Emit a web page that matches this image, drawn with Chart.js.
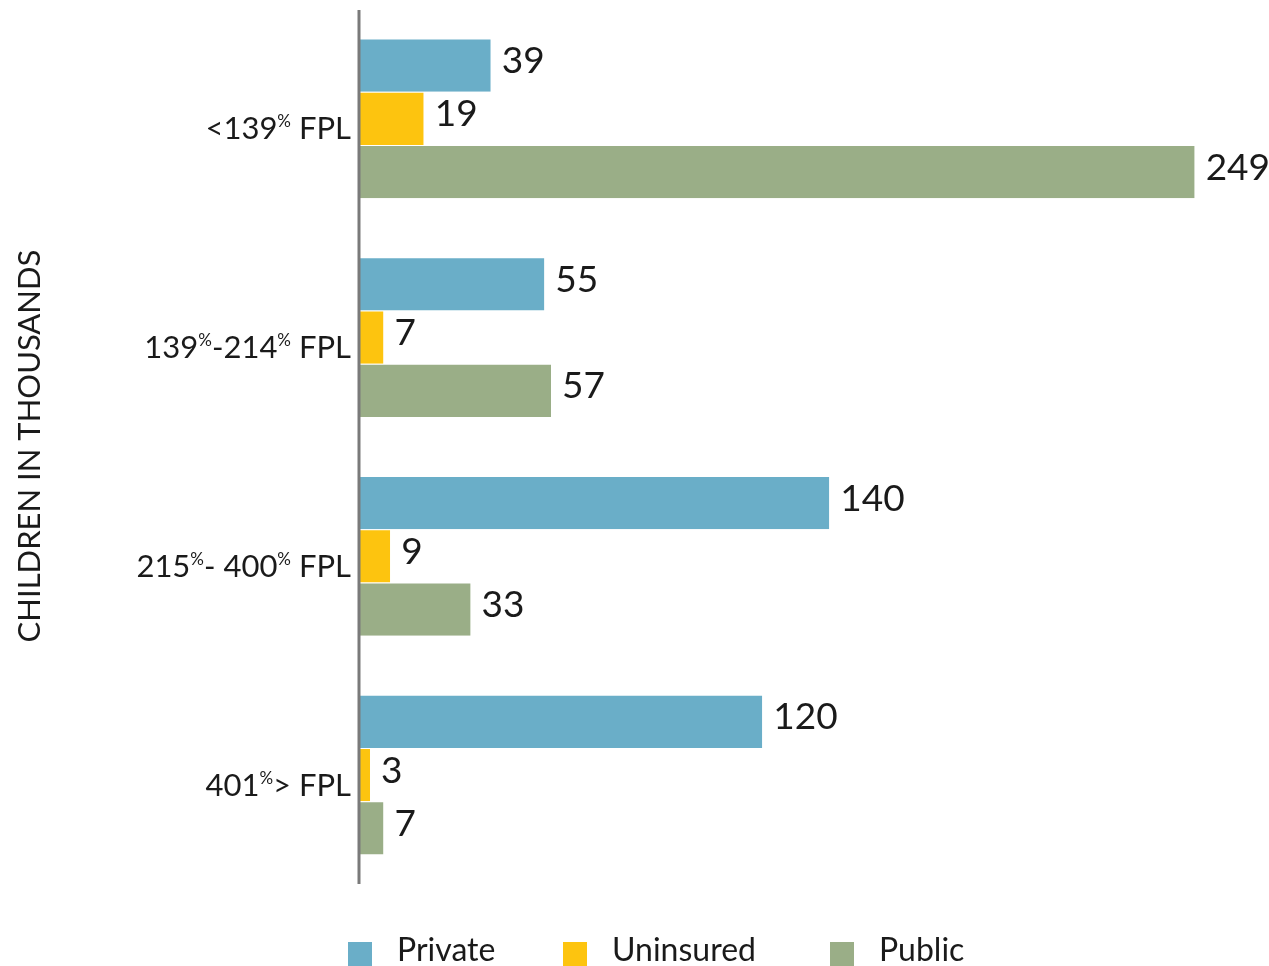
<!DOCTYPE html>
<html>
<head>
<meta charset="utf-8">
<script src="https://cdn.jsdelivr.net/npm/chart.js@4"></script>
<style>
  html, body { margin: 0; padding: 0; background: #fff; }
  #wrap { width: 1269px; height: 966px; position: relative; }
</style>
</head>
<body>
<div id="wrap"><canvas id="chart"></canvas></div>
<script>
// data
const categories = ["<139% FPL", "139%-214% FPL", "215%- 400% FPL", "401%> FPL"];
const privateVals = [39, 55, 140, 120];
const uninsuredVals = [19, 7, 9, 3];
const publicVals = [249, 57, 33, 7];
const seriesNames = ["Private", "Uninsured", "Public"];
const colors = ["#6aaec8", "#fdc40f", "#9aae87"];
const axisTitle = "CHILDREN IN THOUSANDS";

const FONT = "Lato, 'Open Sans', sans-serif";
const W = "400 ";

// draws category labels (with superscript %), bar values, axis line, legend, title
const decorations = {
  id: "decorations",
  afterDatasetsDraw(chart) {
    const ctx = chart.ctx;
    const area = chart.chartArea;
    const yScale = chart.scales.y;

    // axis line
    ctx.save();
    ctx.strokeStyle = "#7a7a7a";
    ctx.lineWidth = 3;
    ctx.beginPath();
    ctx.moveTo(area.left - 1, 10);
    ctx.lineTo(area.left - 1, 884);
    ctx.stroke();

    // value labels
    ctx.fillStyle = "#1a1a1a";
    ctx.font = W + "37px " + FONT;
    ctx.textAlign = "left";
    ctx.textBaseline = "middle";
    chart.data.datasets.forEach((ds, i) => {
      chart.getDatasetMeta(i).data.forEach((bar, j) => {
        ctx.fillText(String(ds.data[j]), bar.x + 11, bar.y - 4);
      });
    });

    // category labels, '%' drawn as superscript
    const bigFont = W + "31px " + FONT;
    const supFont = W + "17px " + FONT;
    ctx.textBaseline = "alphabetic";
    categories.forEach((label, i) => {
      const y = yScale.getPixelForValue(i) + 21;
      const parts = label.split("%");
      let pieces = [];
      parts.forEach((p, k) => {
        if (p) pieces.push({ t: p, sup: false });
        if (k < parts.length - 1) pieces.push({ t: "%", sup: true });
      });
      let width = 0;
      pieces.forEach(pc => {
        ctx.font = pc.sup ? supFont : bigFont;
        pc.w = ctx.measureText(pc.t).width;
        width += pc.w;
      });
      let x = area.left - 9 - width;
      pieces.forEach(pc => {
        ctx.font = pc.sup ? supFont : bigFont;
        ctx.textAlign = "left";
        ctx.fillText(pc.t, x, pc.sup ? y - 12 : y);
        x += pc.w;
      });
    });

    // rotated title
    ctx.save();
    ctx.translate(30, 446);
    ctx.rotate(-Math.PI / 2);
    ctx.font = W + "31px " + FONT;
    ctx.textAlign = "center";
    ctx.textBaseline = "middle";
    ctx.fillStyle = "#1a1a1a";
    ctx.fillText(axisTitle, 0, 0);
    ctx.restore();

    // legend
    const legendX = [348, 563, 830];
    ctx.font = W + "32px " + FONT;
    ctx.textAlign = "left";
    ctx.textBaseline = "middle";
    chart.data.datasets.forEach((ds, i) => {
      ctx.fillStyle = ds.backgroundColor;
      ctx.fillRect(legendX[i], 942, 24, 24);
      ctx.fillStyle = "#1a1a1a";
      ctx.fillText(ds.label, legendX[i] + 49, 951);
    });
    ctx.restore();
  }
};

const ctx = document.getElementById("chart").getContext("2d");
new Chart(ctx, {
  type: "bar",
  data: {
    labels: categories,
    datasets: seriesNames.map((name, i) => ({
      label: name,
      data: [privateVals, uninsuredVals, publicVals][i],
      backgroundColor: colors[i],
      borderColor: "#ffffff",
      borderWidth: { top: 1, bottom: 0, left: 0, right: 0 },
      borderSkipped: false,
      categoryPercentage: 0.73,
      barPercentage: 1
    }))
  },
  options: {
    indexAxis: "y",
    responsive: true,
    maintainAspectRatio: false,
    animation: false,
    layout: { padding: { left: 360, right: 71, top: 9, bottom: 82 } },
    plugins: {
      legend: { display: false },
      tooltip: { enabled: false }
    },
    scales: {
      x: { display: false, min: 0, max: 250 },
      y: { display: false }
    }
  },
  plugins: [decorations]
});
</script>
</body>
</html>
